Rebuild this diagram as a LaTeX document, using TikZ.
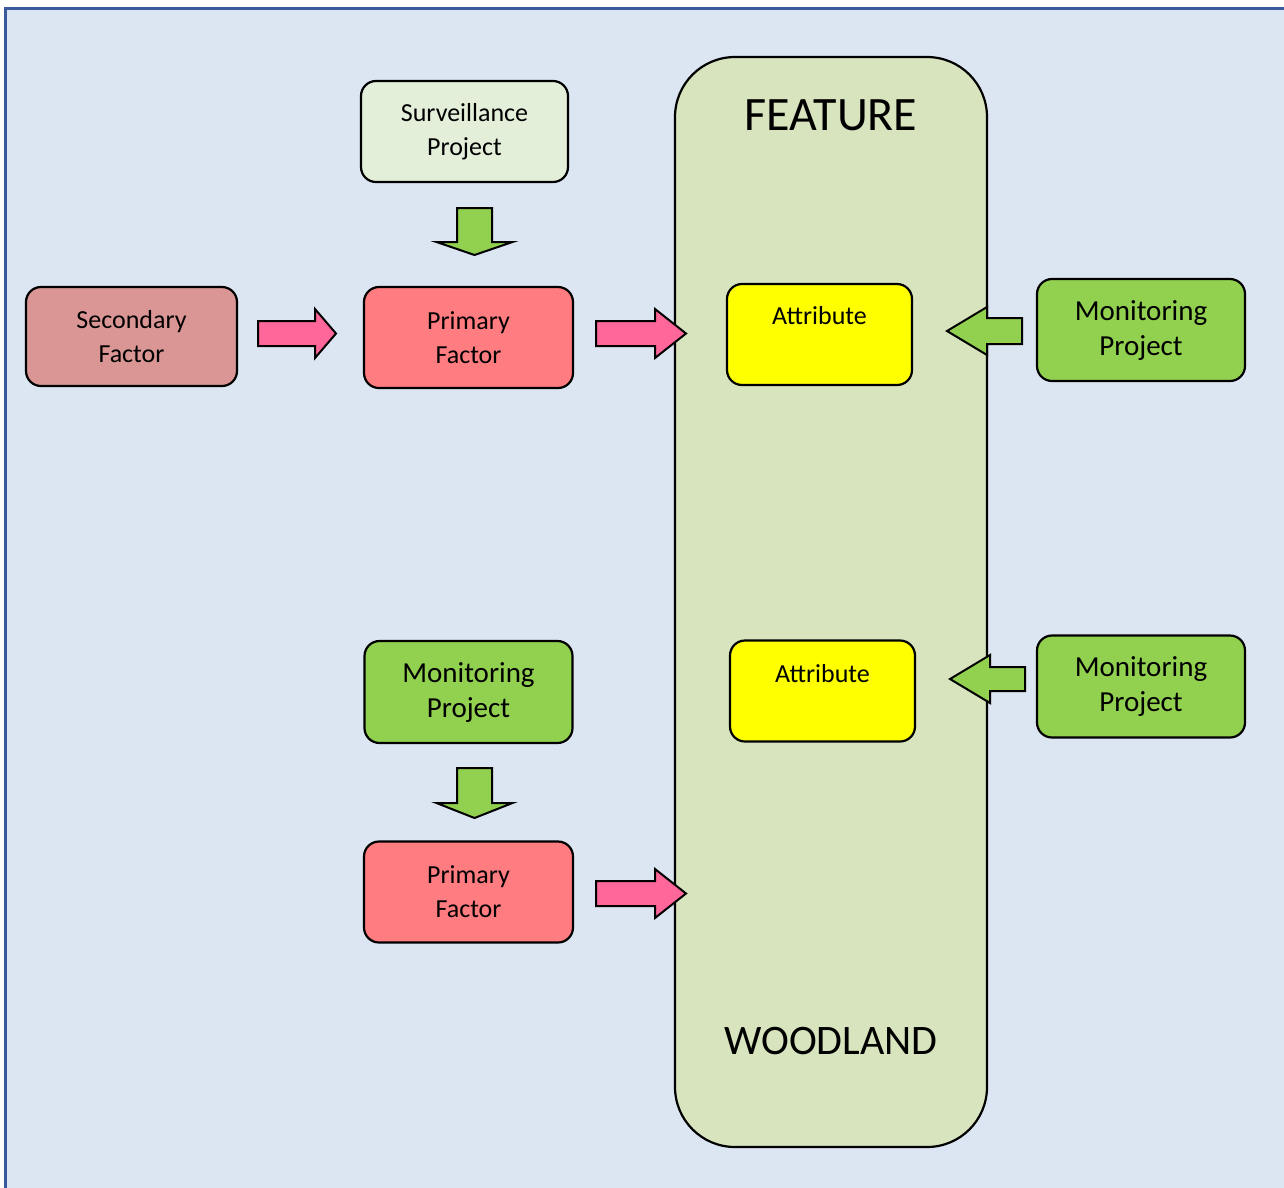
\documentclass[tikz,border=0pt]{standalone}
\usepackage{fontspec}
\setmainfont{Carlito}
\usetikzlibrary{calc}
\definecolor{bgblue}{HTML}{DCE6F2}
\definecolor{frameblue}{HTML}{3A5A9C}
\definecolor{featgreen}{HTML}{D7E4BD}
\definecolor{survgreen}{HTML}{E3EFD9}
\definecolor{secred}{HTML}{D99694}
\definecolor{primred}{HTML}{FF7C80}
\definecolor{attryellow}{HTML}{FFFF00}
\definecolor{mongreen}{HTML}{92D050}
\definecolor{arrowpink}{HTML}{FF6699}
\tikzset{
  box/.style={draw=black, line width=2.2pt, rounded corners=15pt, inner sep=0pt,
    align=center, font=\fontsize{26}{34}\selectfont},
  survbox/.style={box, fill=survgreen, minimum width=207pt, minimum height=101pt},
  secbox/.style={box, fill=secred, minimum width=211pt, minimum height=99pt},
  primbox/.style={box, fill=primred, minimum width=209pt, minimum height=101pt},
  attrbox/.style={box, fill=attryellow, minimum width=185pt, minimum height=101pt},
  monbox/.style={box, fill=mongreen, minimum width=208pt, minimum height=102pt,
    font=\fontsize{29}{35}\selectfont},
  label text/.style={font=\fontsize{26}{33}\selectfont, inner sep=0pt},
  big text/.style={inner sep=0pt},
  blockarrow/.style={draw=black, line width=2pt, line join=miter},
  pinkarrow/.style={blockarrow, fill=arrowpink},
  greenarrow/.style={blockarrow, fill=mongreen},
}
% block arrows: tail x, tip x, centre y, half shaft, half head, head length
\newcommand\rightblock[7]{%
  \filldraw[#1] (#2,{#4-#5}) -- ({#3-#7},{#4-#5}) -- ({#3-#7},{#4-#6}) -- (#3,#4)
    -- ({#3-#7},{#4+#6}) -- ({#3-#7},{#4+#5}) -- (#2,{#4+#5}) -- cycle;}
\newcommand\leftblock[7]{%
  \filldraw[#1] (#2,{#4-#5}) -- ({#3+#7},{#4-#5}) -- ({#3+#7},{#4-#6}) -- (#3,#4)
    -- ({#3+#7},{#4+#6}) -- ({#3+#7},{#4+#5}) -- (#2,{#4+#5}) -- cycle;}
% tail y, tip y, centre x, half shaft, half head, head length
\newcommand\downblock[7]{%
  \filldraw[#1] ({#4-#5},#2) -- ({#4-#5},{#3-#7}) -- ({#4-#6},{#3-#7}) -- (#4,#3)
    -- ({#4+#6},{#3-#7}) -- ({#4+#5},{#3-#7}) -- ({#4+#5},#2) -- cycle;}
\begin{document}
\begin{tikzpicture}[x=1pt, y=-1pt]
  \useasboundingbox (0,0) rectangle (1284,1187);
  % background panel
  \filldraw[fill=bgblue, draw=frameblue, line width=3pt] (5,8) rectangle (1300,1200);

  % feature container
  \node[draw=black, line width=2.2pt, fill=featgreen, rounded corners=60pt,
        minimum width=312pt, minimum height=1090pt, inner sep=0pt] (feature) at (831,602) {};
  \node[big text, font=\fontsize{48}{54}\selectfont] (featname) at (831,115) {FEATURE};
  \node[big text, font=\fontsize{42}{48}\selectfont] (woodname) at (831,1041) {WOODLAND};

  % attributes
  \node[attrbox] (attr1) at (819.5,334.5) {};
  \node[label text] (attr1t) at ([yshift=-33]attr1.north) {Attribute};
  \node[attrbox] (attr2) at (822.5,691) {};
  \node[label text] (attr2t) at ([yshift=-34]attr2.north) {Attribute};

  % left column
  \node[survbox] (surv) at (464.5,131.5) {Surveillance\\Project};
  \node[secbox] (sec) at (131.5,336.5) {Secondary\\Factor};
  \node[primbox] (prim1) at (468.5,337.5) {Primary\\Factor};
  \node[monbox] (monL) at (468.5,692) {Monitoring\\Project};
  \node[primbox] (prim2) at (468.5,892) {Primary\\Factor};

  % right column
  \node[monbox] (monR1) at (1141,330) {Monitoring\\Project};
  \node[monbox] (monR2) at (1141,686.5) {Monitoring\\Project};

  % block arrows
  \downblock{greenarrow}{208}{255}{474.5}{17.5}{38}{13}
  \downblock{greenarrow}{768}{818}{474.5}{17.5}{38}{15}
  \rightblock{pinkarrow}{258}{336}{333.5}{12.5}{24.5}{21}
  \rightblock{pinkarrow}{596}{686}{333.5}{12.5}{24.5}{31}
  \rightblock{pinkarrow}{596}{686}{893.5}{12.5}{24.5}{31}
  \leftblock{greenarrow}{1022}{947}{331}{13}{24}{40}
  \leftblock{greenarrow}{1025}{950}{679}{12}{24}{40}
\end{tikzpicture}
\end{document}
